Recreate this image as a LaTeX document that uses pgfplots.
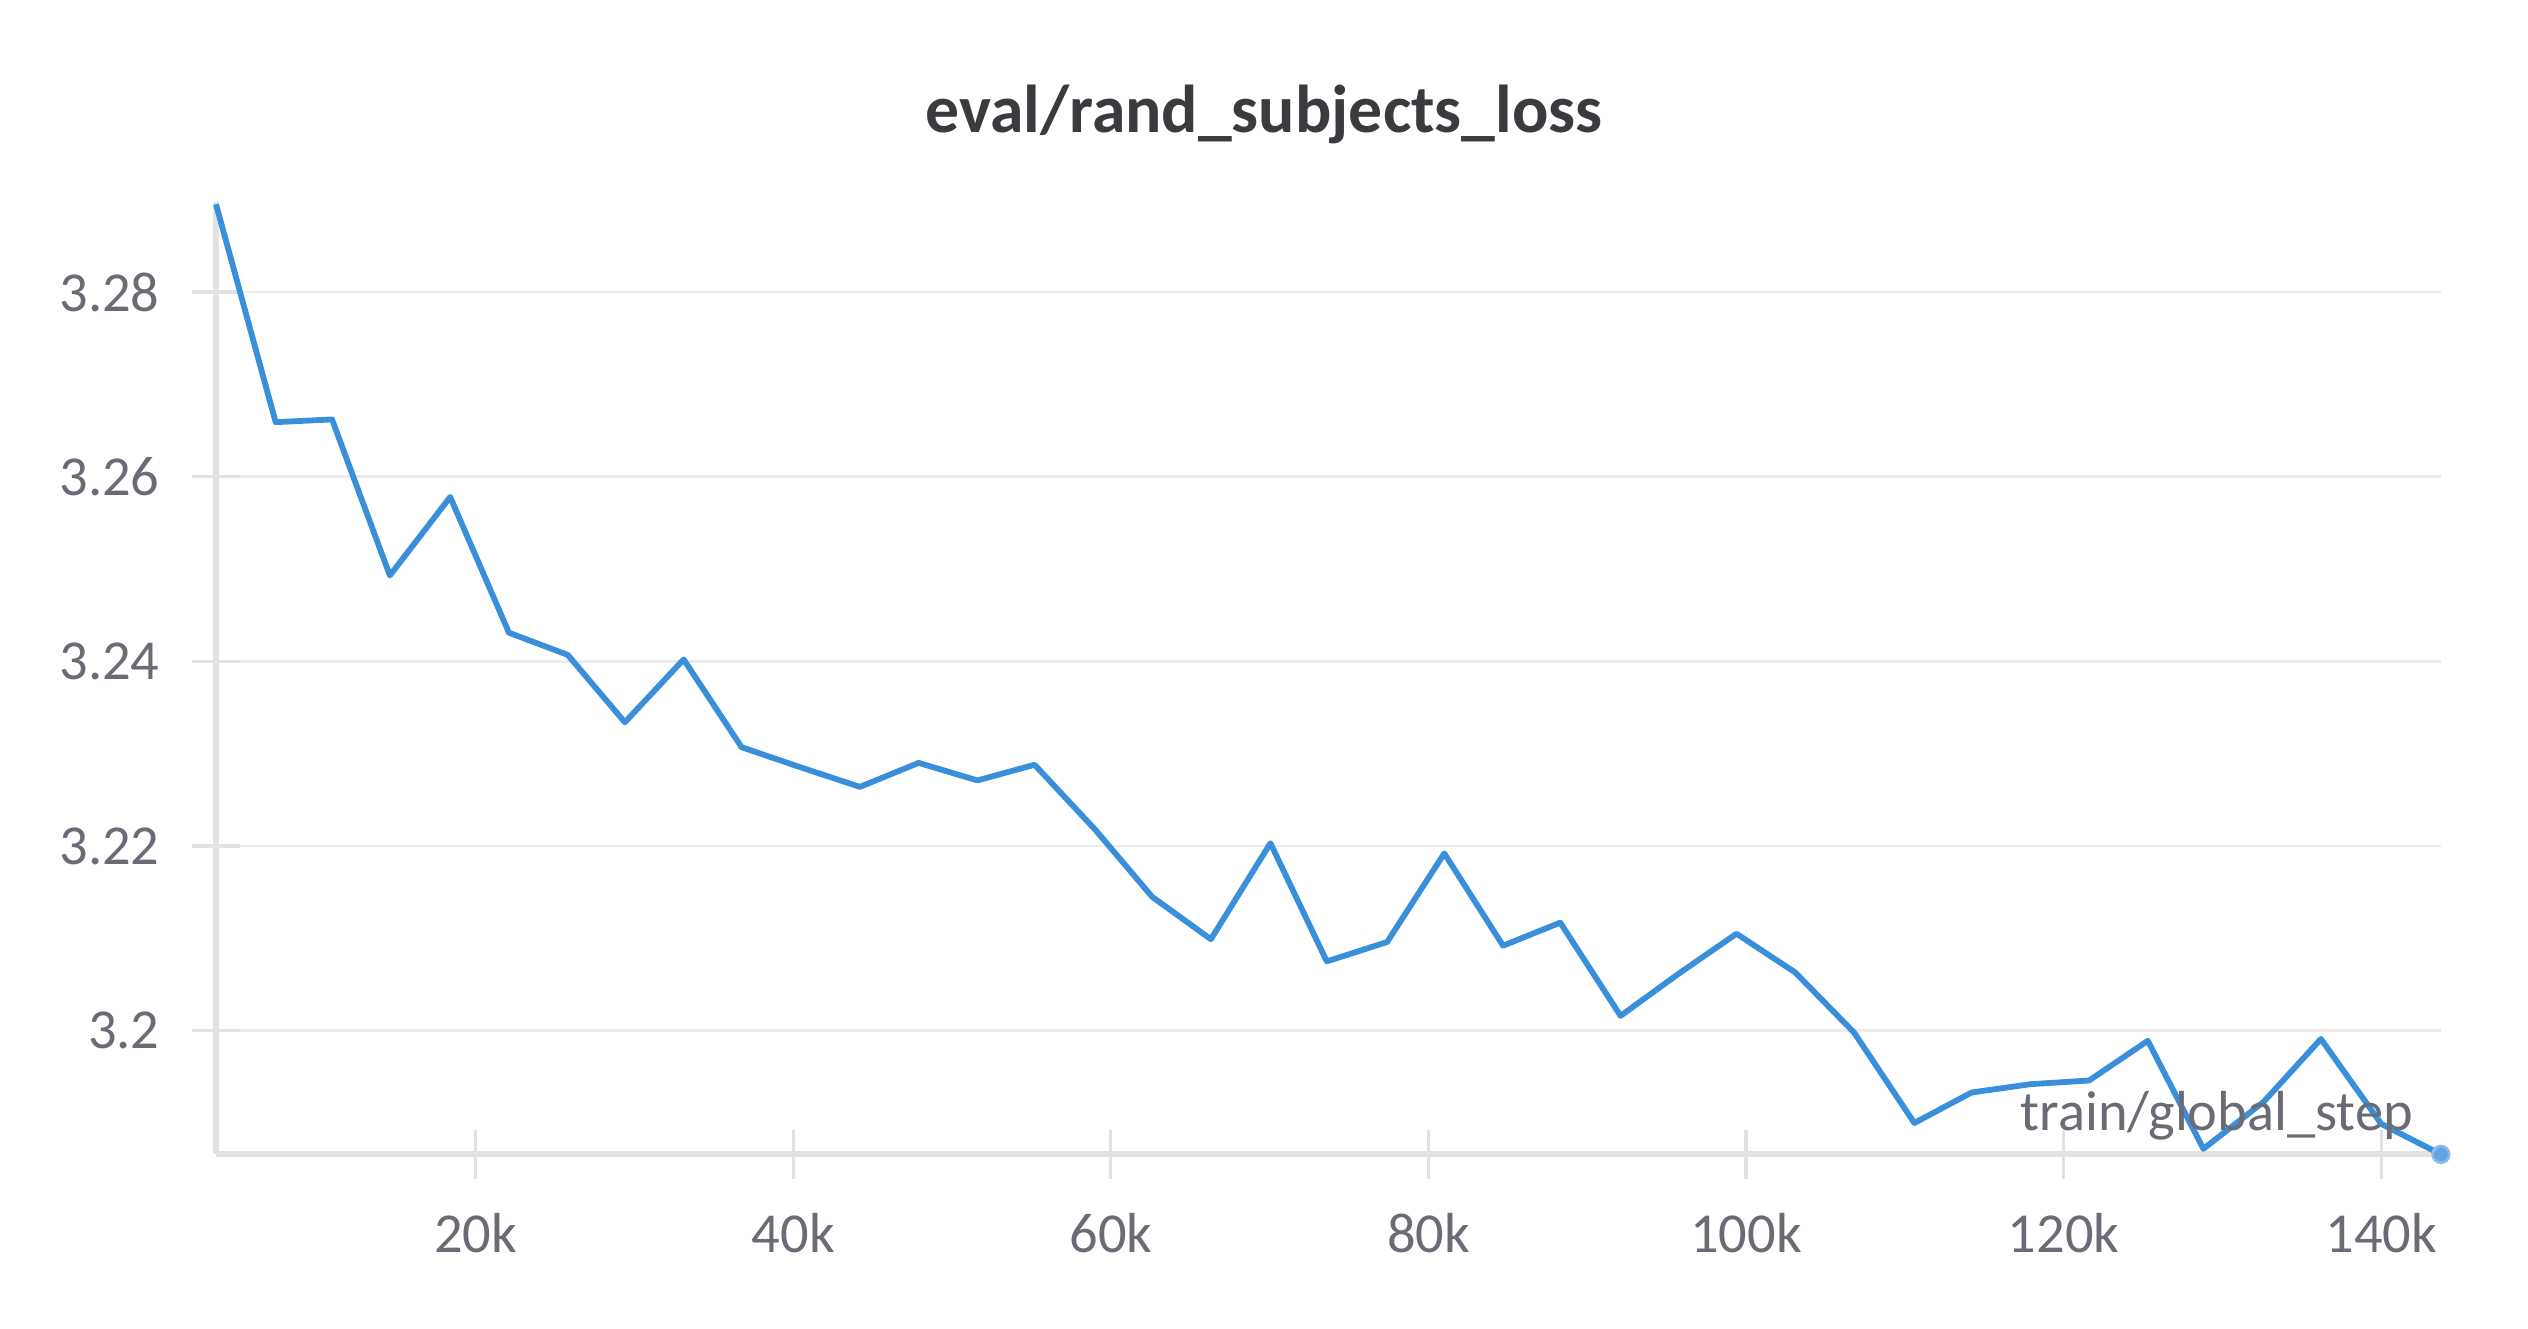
\documentclass[border=0pt]{standalone}
\usepackage{pgfplots}
\pgfplotsset{compat=1.18}
\usepackage{fontspec}
\setmainfont{Carlito}
\definecolor{lineblue}{HTML}{3A8FDB}
\definecolor{gridc}{HTML}{EBEBEE}
\definecolor{axisc}{HTML}{E2E2E5}
\definecolor{tickc}{HTML}{6B6B76}
\definecolor{titlec}{HTML}{3A3A3F}
\begin{document}
\begin{tikzpicture}
\useasboundingbox (0,0) rectangle (784pt,412pt);
\node[anchor=base, text=titlec, font=\fontsize{21}{24}\selectfont\bfseries] at (392pt,371pt) {eval/rand\_subjects\_loss};
\begin{axis}[
  at={(67pt,54pt)}, anchor=south west,
  scale only axis, width=690pt, height=295.5pt,
  xmin=3655, xmax=143760, ymin=3.1866, ymax=3.2898,
  axis lines=left,
  axis line style={-, draw=axisc, line width=1.8pt},
  xtick={20000,40000,60000,80000,100000,120000,140000},
  xticklabels={20k,40k,60k,80k,100k,120k,140k},
  ytick={3.2,3.22,3.24,3.26,3.28},
  yticklabels={3.2,3.22,3.24,3.26,3.28},
  ymajorgrids, grid style={draw=gridc, line width=0.8pt},
  tick align=center, major tick length=15pt,
  tick style={draw=axisc, line width=1pt},
  ticklabel style={font=\fontsize{17.5}{20}\selectfont, text=tickc},
  xticklabel style={anchor=base, yshift=-23pt},
  yticklabel style={anchor=east, xshift=-6.5pt},
  clip=false,
]
\addplot[color=lineblue, line width=1.8pt, line join=round, mark=*, mark indices={39}, mark size=2.6pt, mark options={fill=lineblue!80!white, draw=lineblue!60!white, line width=0.8pt}] coordinates {
(3655,3.2895) (7410,3.2659) (10960,3.2662) (14600,3.2493) (18400,3.2578)
(22100,3.2431) (25800,3.2407) (29400,3.2334) (33100,3.2402) (36750,3.2307)
(40500,3.2285) (44200,3.2264) (47900,3.2290) (51600,3.2271) (55200,3.2288)
(59000,3.2218) (62600,3.2145) (66300,3.2099) (70050,3.2203) (73600,3.2075)
(77400,3.2096) (81000,3.2192) (84700,3.2092) (88300,3.2117) (92100,3.2016)
(95700,3.2061) (99400,3.2105) (103100,3.2063) (106800,3.1998) (110600,3.1900)
(114200,3.1933) (117900,3.1942) (121600,3.1946) (125300,3.1989) (128800,3.1872)
(132600,3.1923) (136200,3.1991) (140000,3.1899) (143760,3.1866)
};
\node[anchor=base east, text=tickc, font=\fontsize{17.5}{20}\selectfont, inner sep=0pt] at ([xshift=-8.5pt, yshift=7.5pt]rel axis cs:1,0) {train/global\_step};
\end{axis}
\end{tikzpicture}
\end{document}
